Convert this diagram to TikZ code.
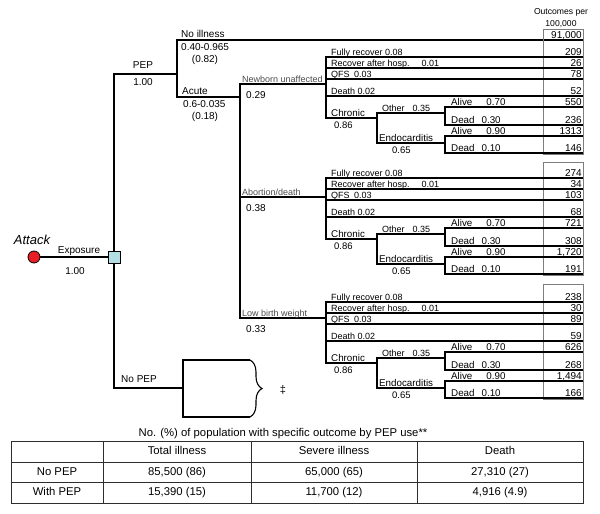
\documentclass[tikz,border=0pt]{standalone}
\usepackage{fontspec}
\setmainfont{Liberation Sans}
\usetikzlibrary{decorations.pathreplacing}
\definecolor{attackred}{RGB}{232,30,36}
\definecolor{exposeblue}{RGB}{178,222,228}
\definecolor{boxgray}{RGB}{125,125,125}
\definecolor{tablegray}{RGB}{45,45,45}

\begin{document}
\begin{tikzpicture}[x=1pt,y=-1pt,
    branch/.style={line width=1.1pt},
    mid/.style={inner sep=0pt,font=\fontsize{10}{12}\selectfont},
    lbl/.style={anchor=base west,yshift=3pt,inner sep=0pt,font=\fontsize{10}{12}\selectfont},
    leaf/.style={anchor=base west,yshift=1.5pt,inner sep=0pt,font=\fontsize{9}{11}\selectfont},
    bigleaf/.style={leaf,font=\fontsize{9.8}{11}\selectfont},
    sublbl/.style={leaf,text=black!70},
    prob/.style={anchor=north west,yshift=-4pt,inner sep=0pt,font=\fontsize{9.5}{11}\selectfont},
    num/.style={anchor=base east,xshift=-1pt,yshift=1.5pt,inner sep=0pt,font=\fontsize{10}{12}\selectfont},
    cell/.style={inner sep=0pt,text height=8pt,text depth=2pt,font=\fontsize{11.3}{13}\selectfont}]
    \useasboundingbox (0,0) rectangle (600,514);

    % Attack and exposure
    \node[circle,draw,thick,fill=attackred,minimum size=12pt,inner sep=0pt] (attack) at (34,257) {};
    \node[inner sep=0pt,font=\itshape\fontsize{13}{15}\selectfont] (attacklbl) at (32,240) {Attack};
    \node[draw,thick,fill=exposeblue,minimum size=12pt,inner sep=0pt] (expo) at (114,257) {};
    \node[mid] (expolbl) at (79,251) {Exposure};
    \node[mid] (expop) at (75,271) {1.00};
    \draw[branch] (attack.east) -- (expo.west);

    % PEP and No PEP
    \coordinate (pepfork) at (177,74);
    \coordinate (nopepfork) at (183,388);
    \draw[branch] (expo.north) |- (pepfork);
    \draw[branch] (expo.south) |- (nopepfork);
    \node[mid] (peplbl) at (143,65) {PEP};
    \node[mid] (pepp) at (143,82) {1.00};
    \node[mid] (nopeplbl) at (139,379) {No PEP};

    % No illness and Acute
    \coordinate (noillend) at (583,40);
    \coordinate (acutefork) at (240,97);
    \draw[branch] (pepfork) |- (noillend);
    \draw[branch] (pepfork) |- (acutefork);
    \node[lbl] (noilllbl) at (181,40) {No illness};
    \node[mid,anchor=west] (noillp) at (181,47) {0.40-0.965};
    \node[mid] (noillpp) at (205,60) {(0.82)};
    \node[lbl] (acutelbl) at (182,97) {Acute};
    \node[mid,anchor=west] (acutep) at (183,104) {0.6-0.035};
    \node[mid] (acutepp) at (205,117) {(0.18)};

    % Outcomes column
    \node[align=center,inner sep=0pt,font=\fontsize{8.6}{11.5}\selectfont] (outhead) at (561,18) {Outcomes per\\100,000};
    \node[num] (noilln) at (noillend) {91,000};

    % outcome subtrees
    \foreach \s/\yb/\yt/\bt/\lab/\pr/\va/\vb/\vc/\vd/\vv/\vf/\vg/\vh in {nb/84/57/29/Newborn unaffected/0.29/209/26/78/52/550/236/1313/146,
        ab/197/178/162/{Abortion/death}/0.38/274/34/103/68/721/308/{1,720}/191,
        lb/318/302/284/Low birth weight/0.33/238/30/89/59/626/268/{1,494}/166}{
        \draw[boxgray,line width=0.6pt] (543,\bt) rectangle (583,\yt+97);
        \coordinate (\s-fork) at (326,\yb);
        \coordinate (\s-chron) at (377,\yt+61);
        \coordinate (\s-oth) at (445,\yt+56);
        \coordinate (\s-endo) at (445,\yt+86);
        \draw[branch] (acutefork) |- (\s-fork);
        \node[sublbl] (\s-lbl) at (242,\yb) {\lab};
        \node[prob,font=\fontsize{10}{12}\selectfont,yshift=-3.5pt] (\s-p) at (246,\yb) {\pr};
        \foreach \k/\dy/\txt in {1/0/Fully recover 0.08, 2/11/Recover after hosp.\hspace{12pt}0.01,
            3/22/QFS\enspace 0.03, 4/39/Death 0.02}{
            \coordinate (\s-e\k) at (583,\yt+\dy);
            \draw[branch] (\s-fork) |- (\s-e\k);
            \node[leaf] (\s-l\k) at (331,\yt+\dy) {\txt};
        }
        \draw[branch] (\s-fork) |- (\s-chron);
        \draw[branch] (\s-chron) |- (\s-oth);
        \draw[branch] (\s-chron) |- (\s-endo);
        \node[bigleaf] (\s-chl) at (331,\yt+61) {Chronic};
        \node[prob] (\s-chp) at (334,\yt+61) {0.86};
        \node[leaf] (\s-othl) at (382,\yt+56) {Other\hspace{8pt}0.35};
        \node[bigleaf] (\s-endl) at (379,\yt+86) {Endocarditis};
        \node[prob] (\s-endp) at (392,\yt+86) {0.65};
        \foreach \k/\dy/\fk/\txt in {5/50/oth/Alive\hspace{14pt}0.70, 6/68/oth/Dead\hspace{7pt}0.30,
            7/79/endo/Alive\hspace{14pt}0.90, 8/96/endo/Dead\hspace{7pt}0.10}{
            \coordinate (\s-e\k) at (583,\yt+\dy);
            \draw[branch] (\s-\fk) |- (\s-e\k);
            \node[bigleaf] (\s-l\k) at (451,\yt+\dy) {\txt};
        }
        \node[num] (\s-n1) at (\s-e1) {\va};
        \node[num] (\s-n2) at (\s-e2) {\vb};
        \node[num] (\s-n3) at (\s-e3) {\vc};
        \node[num] (\s-n4) at (\s-e4) {\vd};
        \node[num] (\s-n5) at (\s-e5) {\vv};
        \node[num] (\s-n6) at (\s-e6) {\vf};
        \node[num] (\s-n7) at (\s-e7) {\vg};
        \node[num] (\s-n8) at (\s-e8) {\vh};
    }

    % No PEP bracket
    \coordinate (bracetop) at (250,360);
    \coordinate (bracebot) at (250,417);
    \draw[branch] (nopepfork) |- (bracetop);
    \draw[branch] (nopepfork) |- (bracebot);
    \draw[branch,decorate,decoration={brace,amplitude=12pt}] (bracetop) -- (bracebot);
    \node[mid,font=\fontsize{11}{13}\selectfont] (dagger) at (283,390) {‡};

    % summary table
    \node[inner sep=0pt,font=\fontsize{11.3}{13}\selectfont] (tabcap) at (283,434) {No. (\%) of population with specific outcome by PEP use**};
    \draw[tablegray,line width=0.8pt] (11,441) rectangle (583,503);
    \foreach \xx in {103,251,417} \draw[tablegray,line width=0.8pt] (\xx,441) -- (\xx,503);
    \foreach \yy in {462,482} \draw[tablegray,line width=0.8pt] (11,\yy) -- (583,\yy);
    \foreach \i/\cx/\h in {2/177/Total illness, 3/334/Severe illness, 4/500/Death}
        \node[cell] (head\i) at (\cx,451.5) {\h};
    \foreach \i/\cx/\ra/\rb in {1/57/No PEP/With PEP, 2/177/{85,500 (86)}/{15,390 (15)},
        3/334/{65,000 (65)}/{11,700 (12)}, 4/500/{27,310 (27)}/{4,916 (4.9)}}{
        \node[cell] (nopep\i) at (\cx,472) {\ra};
        \node[cell] (withpep\i) at (\cx,492.5) {\rb};
    }
\end{tikzpicture}
\end{document}
